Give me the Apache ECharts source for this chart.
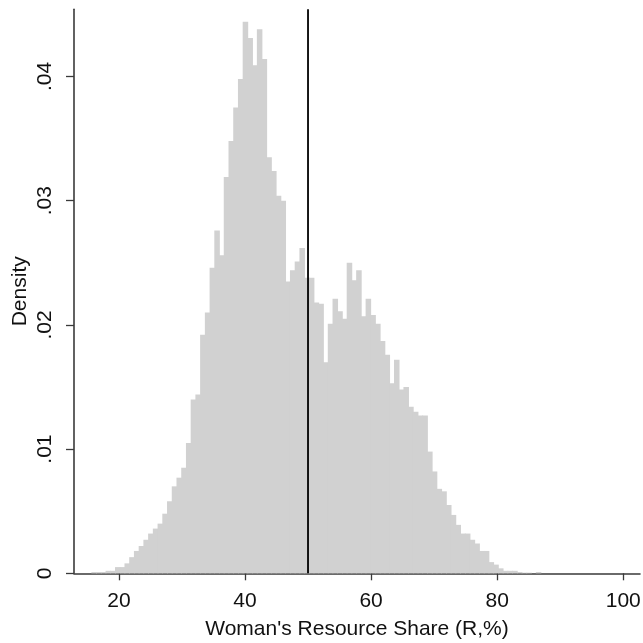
<!DOCTYPE html>
<html>
<head>
<meta charset="utf-8">
<script src="https://cdn.jsdelivr.net/npm/echarts@6/dist/echarts.min.js"></script>
<style>
html,body{margin:0;padding:0;background:#fff;}
#chart{width:643px;height:643px;}
</style>
</head>
<body>
<div id="chart"></div>
<script>
// Histogram bins (Woman's resource share, %)
const binStart = 15.7;
const binWidth = 0.75;
const densities = [
  0.0001, 0.0001, 0.0001, 0.0002, 0.0002, 0.0005, 0.0005, 0.0008, 0.0013, 0.0018,
  0.0022, 0.0027, 0.0032, 0.0036, 0.0040, 0.0048, 0.0058, 0.0070, 0.0077, 0.0085,
  0.0105, 0.0140, 0.0144, 0.0192, 0.0210, 0.0246, 0.0276, 0.0256, 0.0319, 0.0348,
  0.0375, 0.0398, 0.0444, 0.0431, 0.0409, 0.0438, 0.0414, 0.0335, 0.0324, 0.0304,
  0.0300, 0.0235, 0.0244, 0.0251, 0.0262, 0.0238, 0.0238, 0.0218, 0.0217, 0.0170,
  0.0201, 0.0221, 0.0211, 0.0205, 0.0250, 0.0236, 0.0244, 0.0207, 0.0221, 0.0208,
  0.0201, 0.0187, 0.0176, 0.0153, 0.0172, 0.0148, 0.0150, 0.0134, 0.0130, 0.0127,
  0.0127, 0.0098, 0.0082, 0.0068, 0.0066, 0.0055, 0.0047, 0.0039, 0.0032, 0.0032,
  0.0027, 0.0024, 0.0018, 0.0018, 0.0009, 0.0007, 0.0004, 0.0002, 0.0002, 0.0002,
  0.0001, 0.00005, 0.00005, 0.0, 0.0001
];
const refLineX = 50;
const xTicks = [20, 40, 60, 80, 100];
const xTickLabels = ['20', '40', '60', '80', '100'];
const yTicks = [0, 0.01, 0.02, 0.03, 0.04];
const yTickLabels = ['0', '.01', '.02', '.03', '.04'];
const xTitle = "Woman's Resource Share (R,%)";
const yTitle = 'Density';

const histData = densities.map((d, k) => [binStart + k * binWidth, binStart + (k + 1) * binWidth, d]);

const FONT = "'Liberation Sans', Arial, Helvetica, sans-serif";
const AXIS_COLOR = '#3a3a3a';
const BAR_COLOR = '#d1d1d1';
const FS = 21;

const chart = echarts.init(document.getElementById('chart'), null, {renderer: 'canvas'});
chart.setOption({
  animation: false,
  backgroundColor: '#ffffff',
  grid: {left: 74, top: 9.3, width: 566, height: 564, containLabel: false, outerBoundsMode: 'none'},
  xAxis: {
    type: 'value',
    min: 12.88,
    max: 102.66,
    name: xTitle,
    nameLocation: 'middle',
    nameGap: 45,
    nameMoveOverlap: false,
    nameTextStyle: {fontFamily: FONT, fontSize: FS, color: '#111'},
    axisLine: {show: true, onZero: false, lineStyle: {color: AXIS_COLOR, width: 1.6}},
    axisTick: {show: true, length: 7, customValues: xTicks, lineStyle: {color: AXIS_COLOR, width: 1.3}},
    axisLabel: {
      customValues: xTicks,
      margin: 17,
      fontFamily: FONT, fontSize: FS, color: '#111',
      formatter: v => xTickLabels[xTicks.indexOf(v)] ?? ''
    },
    splitLine: {show: false}
  },
  yAxis: {
    type: 'value',
    min: 0,
    max: 0.04541,
    name: yTitle,
    nameLocation: 'middle',
    nameGap: 43,
    nameMoveOverlap: false,
    nameRotate: 90,
    nameTextStyle: {fontFamily: FONT, fontSize: FS, color: '#111'},
    axisLine: {show: true, lineStyle: {color: AXIS_COLOR, width: 1.6}},
    axisTick: {show: true, length: 8, customValues: yTicks, lineStyle: {color: AXIS_COLOR, width: 1.3}},
    axisLabel: {
      customValues: yTicks,
      rotate: 90,
      margin: 18,
      fontFamily: FONT, fontSize: FS, color: '#111',
      formatter: v => {
        const i = yTicks.findIndex(t => Math.abs(t - v) < 1e-9);
        return i >= 0 ? yTickLabels[i] : '';
      }
    },
    splitLine: {show: false}
  },
  series: [
    {
      type: 'custom',
      data: histData,
      encode: {x: [0, 1], y: 2},
      renderItem: function (params, api) {
        const x0 = api.value(0), x1 = api.value(1), y = api.value(2);
        const pTop = api.coord([x0, y]);
        const pBot = api.coord([x1, 0]);
        return {
          type: 'rect',
          shape: {x: pTop[0] - 0.4, y: pTop[1], width: pBot[0] - pTop[0] + 0.8, height: pBot[1] - pTop[1]},
          style: {fill: BAR_COLOR}
        };
      },
      z: 1
    },
    {
      type: 'line',
      data: [[refLineX, 0], [refLineX, 0.04541]],
      symbol: 'none',
      lineStyle: {color: '#000', width: 1.8},
      z: 3,
      silent: true
    }
  ]
});
</script>
</body>
</html>
